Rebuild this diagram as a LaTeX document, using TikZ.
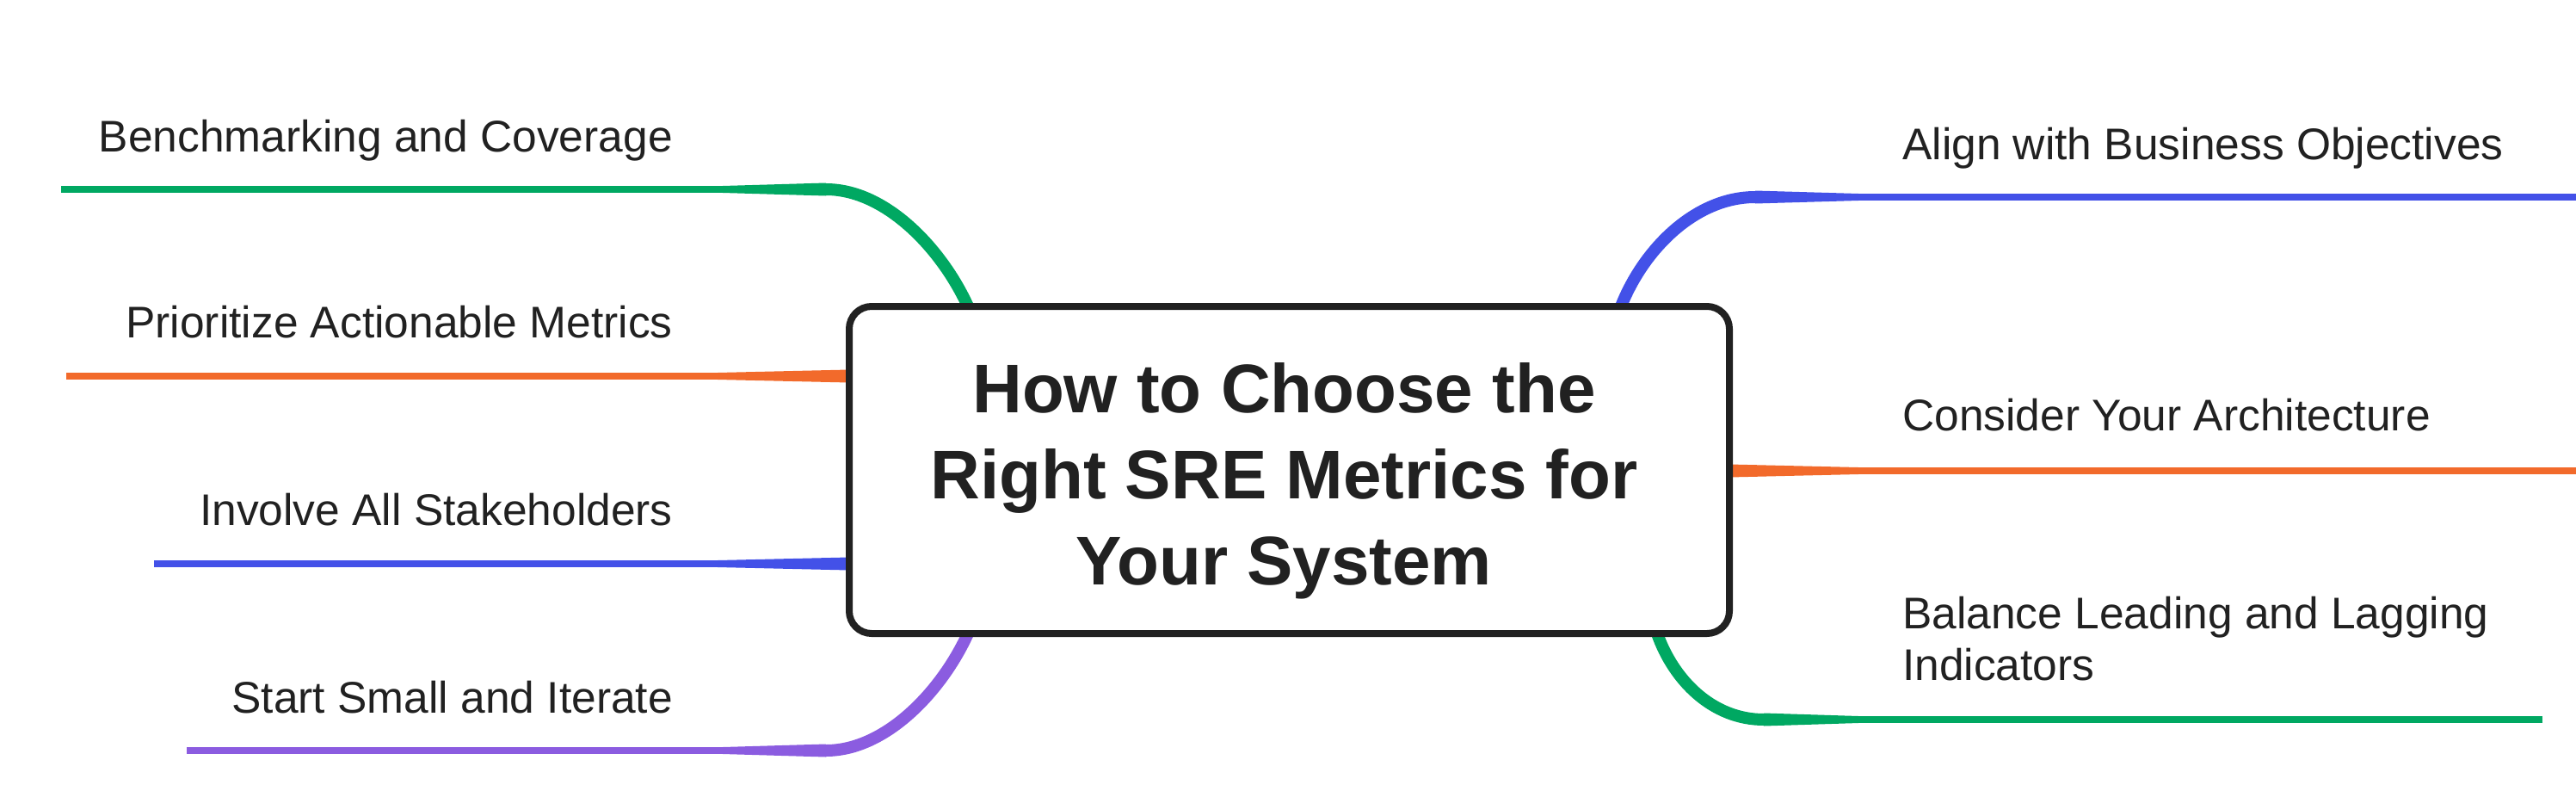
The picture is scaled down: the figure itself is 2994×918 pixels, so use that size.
\documentclass[tikz,border=0pt]{standalone}
\usepackage{fontspec}
\setmainfont{Liberation Sans}
\usetikzlibrary{positioning}

\definecolor{mmgreen}{HTML}{00A862}
\definecolor{mmorange}{HTML}{F26A2B}
\definecolor{mmblue}{HTML}{4351E8}
\definecolor{mmpurple}{HTML}{8B5CE0}
\definecolor{mmink}{HTML}{212121}

\tikzset{
  leaf/.style={inner sep=0pt, text=mmink, font=\fontsize{51.5}{60}\selectfont},
  twig/.style={line width=8pt},
  stem/.style={line width=14pt},
  hub/.style={draw=mmink, line width=8pt, rounded corners=26pt, fill=white,
    minimum width=1023pt, minimum height=380pt, inner sep=0pt},
  hubtext/.style={inner sep=0pt, align=center, text=mmink,
    font=\bfseries\fontsize{80}{100}\selectfont}
}

\begin{document}
\begin{tikzpicture}[x=1pt, y=-1pt]
\useasboundingbox (0,0) rectangle (2994,918);

% roots on the hub, bends, necks and free tips of the branches
\coordinate (bench-root) at (1125,356);
\coordinate (bench-bend) at (960,220);
\coordinate (bench-neck) at (840,220);
\coordinate (bench-tip) at (71,220);
\coordinate (prio-bend) at (987,437);
\coordinate (prio-neck) at (834,437);
\coordinate (prio-tip) at (77,437);
\coordinate (involve-bend) at (987,655);
\coordinate (involve-neck) at (834,655);
\coordinate (involve-tip) at (179,655);
\coordinate (start-root) at (1125,736);
\coordinate (start-bend) at (960,872);
\coordinate (start-neck) at (840,872);
\coordinate (start-tip) at (217,872);
\coordinate (align-root) at (1884,356);
\coordinate (align-bend) at (2040,229);
\coordinate (align-neck) at (2160,229);
\coordinate (align-tip) at (2994,229);
\coordinate (arch-bend) at (2010,547);
\coordinate (arch-neck) at (2160,547);
\coordinate (arch-tip) at (2994,547);
\coordinate (balance-root) at (1926,736);
\coordinate (balance-bend) at (2050,836);
\coordinate (balance-neck) at (2160,836);
\coordinate (balance-tip) at (2955,836);

% curved stems
\draw[stem, mmgreen] (bench-root) .. controls (1095,290) and (1030,220) .. (bench-bend);
\draw[stem, mmpurple] (start-root) .. controls (1095,802) and (1030,872) .. (start-bend);
\draw[stem, mmblue] (align-root) .. controls (1910,290) and (1970,229) .. (align-bend);
\draw[stem, mmgreen] (balance-root) .. controls (1945,790) and (1990,836) .. (balance-bend);

% tapers and straight twigs
\foreach \c/\b in {mmgreen/bench, mmorange/prio, mmblue/involve, mmpurple/start,
                   mmblue/align, mmorange/arch, mmgreen/balance}{
  \fill[\c] ([yshift=7.5pt]\b-bend) -- ([yshift=4pt]\b-neck)
    -- ([yshift=-4pt]\b-neck) -- ([yshift=-7.5pt]\b-bend) -- cycle;
  \draw[twig, \c] (\b-neck) -- (\b-tip);
}

\node[hub] (hub) at (1498.5,546) {};
\node[hubtext] (title) at ([xshift=-6pt, yshift=-13pt]hub.center)
  {How to Choose the\\Right SRE Metrics for\\Your System};

\node[leaf, anchor=base east] (bench) at (782,176) {Benchmarking and Coverage};
\node[leaf, anchor=base east] (prio) at (782,392) {Prioritize Actionable Metrics};
\node[leaf, anchor=base east] (involve) at (782,610) {Involve All Stakeholders};
\node[leaf, anchor=base east] (start) at (782,828) {Start Small and Iterate};
\node[leaf, anchor=base west] (align) at (2211,185) {Align with Business Objectives};
\node[leaf, anchor=base west] (arch) at (2211,500) {Consider Your Architecture};
\node[leaf, anchor=west, align=left] (balance) at (2211,742)
  {Balance Leading and Lagging\\Indicators};
\end{tikzpicture}
\end{document}
